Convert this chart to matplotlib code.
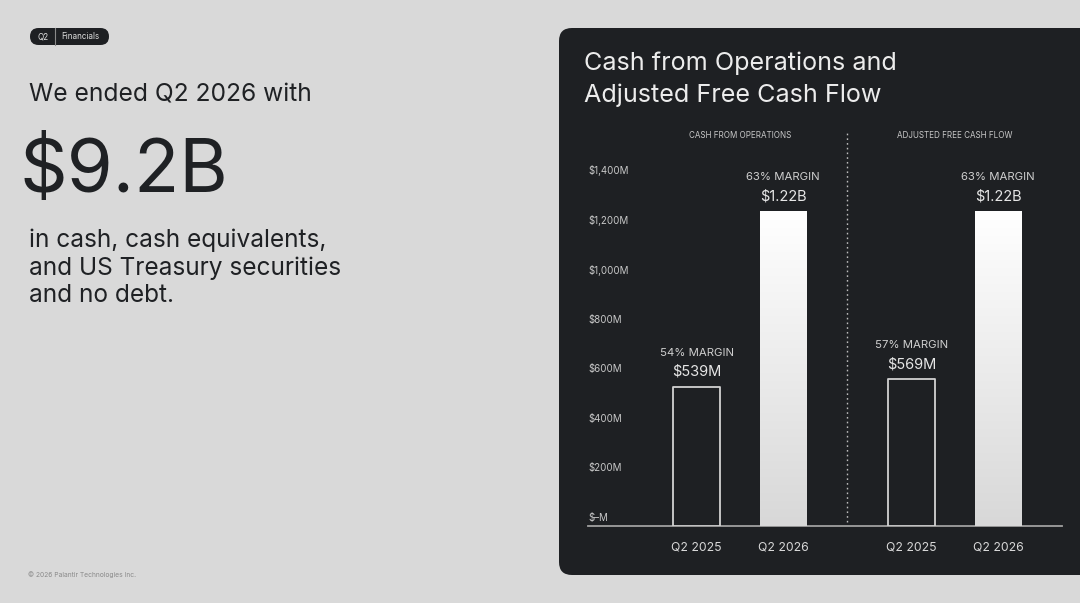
import matplotlib
matplotlib.use("Agg")
import matplotlib.pyplot as plt
import numpy as np
from matplotlib.patches import FancyBboxPatch

plt.rcParams['font.family'] = ['Inter', 'DejaVu Sans']

# ---- data ----
groups = ["CASH FROM OPERATIONS", "ADJUSTED FREE CASH FLOW"]
periods = ["Q2 2025", "Q2 2026"]
values_m = [539, 1220, 569, 1220]           # $M, order: CFO 2025, CFO 2026, AFCF 2025, AFCF 2026
value_labels = ["$539M", "$1.22B", "$569M", "$1.22B"]
margins = ["54% MARGIN", "63% MARGIN", "57% MARGIN", "63% MARGIN"]
yticks = [0, 200, 400, 600, 800, 1000, 1200, 1400]
ytick_labels = ["$\u2013M", "$200M", "$400M", "$600M", "$800M", "$1,000M", "$1,200M", "$1,400M"]

W, H = 1080, 603
BG = "#d9d9d9"
PANEL = "#1e2023"
fig = plt.figure(figsize=(W / 100, H / 100), dpi=100)
fig.patch.set_facecolor(BG)

def fx(x): return x / W
def fy(y): return 1 - y / H

# dark panel
panel = FancyBboxPatch((fx(559), fy(575)), fx(560), (575 - 28) / H,
                       boxstyle="round,pad=0,rounding_size=0.012",
                       transform=fig.transFigure, facecolor=PANEL, edgecolor="none",
                       mutation_aspect=W / H, zorder=-5)
fig.patches.append(panel)

# badge
badge = FancyBboxPatch((fx(30), fy(45)), fx(79), 17 / H,
                       boxstyle="round,pad=0,rounding_size=0.0079",
                       transform=fig.transFigure, facecolor=PANEL, edgecolor="none",
                       mutation_aspect=W / H, zorder=-5)
fig.patches.append(badge)
fig.lines.append(plt.Line2D([fx(54.5), fx(54.5)], [fy(28), fy(45)], transform=fig.transFigure,
                            color="#8a8a8a", lw=0.8))
fig.text(fx(43), fy(36.5), "Q2", color="#e0e0e0", fontsize=5.8, ha="center", va="center")
fig.text(fx(80.5), fy(36.5), "Financials", color="#e0e0e0", fontsize=5.8, ha="center", va="center")

# left text
TXT = "#1f2124"
fig.text(fx(29), fy(95), "We ended Q2 2026 with", color=TXT, fontsize=17.7, ha="left", va="center")
fig.text(fx(20), fy(172), "$9.2B", color=TXT, fontsize=53.5, ha="left", va="center")
for i, line in enumerate(["in cash, cash equivalents,", "and US Treasury securities", "and no debt."]):
    fig.text(fx(29), fy(240 + 28 * i), line, color=TXT, fontsize=17.6, ha="left", va="center")
fig.text(fx(28), fy(575), "\u00a9 2026 Palantir Technologies Inc.", color="#8a8a8a", fontsize=4.8,
         ha="left", va="center")

# panel title
for i, line in enumerate(["Cash from Operations and", "Adjusted Free Cash Flow"]):
    fig.text(fx(584), fy(63 + 32 * i), line, color="#ececec", fontsize=18.1, ha="left", va="center")

# ---- chart axes ----
x0, x1, yb, yt = 588, 1062, 526, 130
rect = [fx(x0), fy(yb), (x1 - x0) / W, (yb - yt) / H]
ax = fig.add_axes(rect)
ax.set_zorder(2)
ax.set_facecolor("none")
unit = 86.5
pos = np.array([0, 1, (911.5 - 696.5) / unit, (998 - 696.5) / unit])
xlim = ((x0 - 696.5) / unit, (x1 - 696.5) / unit)
ppm = 0.258  # px per $M (bars)
ylim = (0, (yb - yt) / ppm)
bw = 47 / unit

cmap = matplotlib.colors.LinearSegmentedColormap.from_list("g", ["#d8d8d8", "#ffffff"])
for i, (p, v) in enumerate(zip(pos, values_m)):
    if i % 2 == 0:
        b = ax.bar(p, v, width=bw, facecolor=PANEL, edgecolor="#d2d2d2", linewidth=1.3, zorder=3)
        b.patches[0].set_joinstyle("round")
    else:
        b = ax.bar(p, v, width=bw, facecolor="#e8e8e8", edgecolor="none", zorder=2)
        grad = np.linspace(0, 1, 256).reshape(-1, 1)
        im = ax.imshow(grad, cmap=cmap, aspect="auto", origin="lower",
                       extent=[p - bw / 2, p + bw / 2, 0, v], zorder=3, interpolation="bicubic")
        im.set_clip_path(b.patches[0])
    ax.annotate(value_labels[i], (p, v), xytext=(0, 15), textcoords="offset pixels",
                ha="center", va="center", color="#e6e6e6", fontsize=10.5)
    ax.annotate(margins[i], (p, v), xytext=(0, 34), textcoords="offset pixels",
                ha="center", va="center", color="#cfcfcf", fontsize=8.2)

ax.set_xlim(*xlim)
ax.set_ylim(*ylim)

# divider
div_x = (847 - 696.5) / unit
ax.plot([div_x, div_x], [(yb - 522) / ppm, (yb - 133) / ppm], color="#bdbdbd", lw=1,
        linestyle=(0, (1.2, 2.2)), zorder=1, clip_on=False)

# group headers
for gx, g in zip([(pos[0] + pos[1]) / 2, (pos[2] + pos[3]) / 2], groups):
    ax.text(gx, (yb - 135.5) / ppm, g, ha="center", va="center", color="#c8c8c8", fontsize=5.8)

# axes styling
for s in ["top", "right", "left"]:
    ax.spines[s].set_visible(False)
ax.spines["bottom"].set_color("#a0a0a0")
ax.spines["bottom"].set_linewidth(1.3)
ax.set_xticks(pos)
ax.set_xticklabels(periods * 2, color="#d8d8d8", fontsize=8.8)
ax.tick_params(axis="x", length=0, pad=11)
ax.set_yticks([])

# value scale labels (as placed in the reference: zero label sits above the baseline)
sax = fig.add_axes(rect, sharex=None)
sax.set_zorder(1)
sax.patch.set_visible(False)
for s in sax.spines.values():
    s.set_visible(False)
lab_scale = (517 - 170) / 1400.0
sax.set_ylim(-(yb - 517) / lab_scale, (517 - yt) / lab_scale)
sax.set_xticks([])
sax.set_yticks(yticks)
sax.set_yticklabels(ytick_labels, color="#c8c8c8", fontsize=7.0)
sax.tick_params(axis="y", length=0, pad=0)
for lab in sax.get_yticklabels():
    lab.set_horizontalalignment("left")

fig.savefig("out.png", dpi=100, facecolor=BG)
